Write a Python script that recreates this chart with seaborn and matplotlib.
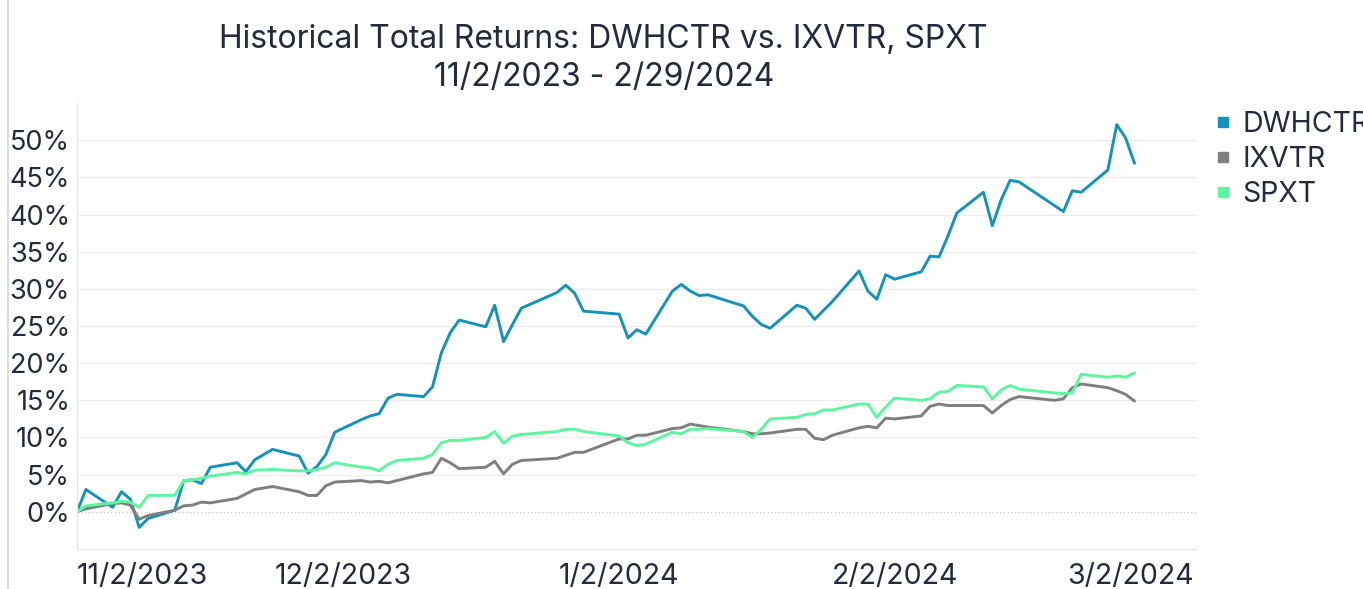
import pandas as pd
import matplotlib
matplotlib.use('Agg')
import matplotlib.pyplot as plt
import matplotlib.transforms as mtransforms
from matplotlib.lines import Line2D
import seaborn as sns

#-------------------------------------------------
l_date=['2023-11-02','2023-11-03','2023-11-06','2023-11-07','2023-11-08','2023-11-09','2023-11-10',
        '2023-11-13','2023-11-14','2023-11-15','2023-11-16','2023-11-17','2023-11-20','2023-11-21',
        '2023-11-22','2023-11-24','2023-11-27','2023-11-28','2023-11-29','2023-11-30',
        '2023-12-01','2023-12-04','2023-12-05','2023-12-06','2023-12-07','2023-12-08','2023-12-11',
        '2023-12-12','2023-12-13','2023-12-14','2023-12-15','2023-12-18','2023-12-19','2023-12-20',
        '2023-12-21','2023-12-22','2023-12-26','2023-12-27','2023-12-28','2023-12-29',
        '2024-01-02','2024-01-03','2024-01-04','2024-01-05','2024-01-08','2024-01-09','2024-01-10',
        '2024-01-11','2024-01-12','2024-01-16','2024-01-17','2024-01-18','2024-01-19','2024-01-22',
        '2024-01-23','2024-01-24','2024-01-25','2024-01-26','2024-01-29','2024-01-30','2024-01-31',
        '2024-02-01','2024-02-02','2024-02-05','2024-02-06','2024-02-07','2024-02-08','2024-02-09',
        '2024-02-12','2024-02-13','2024-02-14','2024-02-15','2024-02-16','2024-02-20','2024-02-21',
        '2024-02-22','2024-02-23','2024-02-26','2024-02-27','2024-02-28','2024-02-29']

dwhctr=[0.0, 3.0, 0.6, 2.7, 1.7, -2.1, -0.9, 0.2, 4.2, 4.3, 3.8, 6.0, 6.6, 5.4, 7.0, 8.4, 7.5, 5.2, 6.1, 7.7,
        10.7, 12.4, 12.9, 13.2, 15.3, 15.8, 15.5, 16.8, 21.4, 24.1, 25.8, 24.9, 27.8, 22.9, 25.2, 27.4, 29.5, 30.5, 29.4, 27.0,
        26.6, 23.4, 24.5, 23.9, 29.7, 30.6, 29.7, 29.1, 29.2, 27.7, 26.3, 25.2, 24.7, 27.8, 27.4, 25.9, 27.1, 28.3, 32.4, 29.7, 28.6,
        31.9, 31.3, 32.3, 34.4, 34.3, 37.1, 40.2, 43.0, 38.5, 42.0, 44.6, 44.4, 41.2, 40.4, 43.2, 43.0, 46.0, 52.1, 50.3, 46.9]

ixvtr=[0.0, 0.4, 1.1, 1.2, 0.9, -1.0, -0.5, 0.2, 0.8, 0.9, 1.3, 1.2, 1.8, 2.4, 3.0, 3.4, 2.7, 2.2, 2.2, 3.5,
       4.0, 4.2, 4.0, 4.1, 3.9, 4.2, 5.1, 5.3, 7.2, 6.6, 5.8, 6.0, 6.8, 5.1, 6.4, 6.9, 7.2, 7.6, 8.0, 8.0,
       9.8, 9.8, 10.3, 10.3, 11.2, 11.3, 11.8, 11.6, 11.4, 10.8, 10.5, 10.5, 10.6, 11.1, 11.1, 9.9, 9.7, 10.3, 11.3, 11.5, 11.3,
       12.6, 12.5, 12.9, 14.2, 14.5, 14.3, 14.3, 14.3, 13.3, 14.3, 15.1, 15.5, 15.0, 15.2, 16.7, 17.2, 16.7, 16.3, 15.8, 14.9]

spxt=[0.0, 0.8, 1.2, 1.4, 1.3, 0.6, 2.2, 2.2, 4.2, 4.3, 4.5, 4.8, 5.3, 5.1, 5.6, 5.7, 5.5, 5.5, 5.7, 6.0,
      6.6, 6.0, 5.9, 5.5, 6.4, 6.9, 7.2, 7.7, 9.3, 9.6, 9.6, 10.0, 10.8, 9.2, 10.2, 10.4, 10.8, 11.1, 11.1, 10.8,
      10.2, 9.3, 8.9, 9.1, 10.7, 10.5, 11.1, 11.1, 11.2, 10.8, 10.0, 11.1, 12.5, 12.7, 13.1, 13.2, 13.7, 13.7, 14.5, 14.5, 12.7,
      14.1, 15.3, 15.0, 15.2, 16.1, 16.2, 17.0, 16.8, 15.2, 16.4, 17.0, 16.5, 16.0, 15.9, 16.0, 18.5, 18.1, 18.3, 18.1, 18.7]

l_series=['DWHCTR', 'IXVTR', 'SPXT']
l_color=['#1591bb', '#7f7f7f', '#5ef5a0']
l_xtick=['2023-11-02', '2023-12-02', '2024-01-02', '2024-02-02', '2024-03-02']
l_xlab=['11/2/2023', '12/2/2023', '1/2/2024', '2/2/2024', '3/2/2024']
l_ytick=list(range(0, 55, 5))

txt_c='#222a3f'

#-------------------------------------------------
df=pd.DataFrame({'date': pd.to_datetime(l_date), 'DWHCTR': dwhctr, 'IXVTR': ixvtr, 'SPXT': spxt})
df=df.melt(id_vars='date', var_name='series', value_name='ret')

sns.set_style('white')
plt.rcParams['font.family']=['Inter', 'DejaVu Sans']

fig=plt.figure(figsize=(13.63, 5.89), dpi=100)
ax=fig.add_axes([0.0565, 0.068, 0.8215, 0.757])

# grid
for v in l_ytick[1:]:
    ax.axhline(v, color='#ececec', lw=0.9, zorder=0)
ax.axhline(0, color='#c4c4c4', lw=0.9, ls=(0, (1, 2)), zorder=0)

sns.lineplot(data=df, x='date', y='ret', hue='series', hue_order=l_series,
             palette=l_color, linewidth=2.1, ax=ax, legend=False)

ax.set_ylim(-5, 55)
ax.set_xlim(pd.Timestamp('2023-11-02'), pd.Timestamp('2024-03-07'))
ax.set_yticks(l_ytick)
ax.set_yticklabels([f'{v}%' for v in l_ytick], fontsize=19.5, color=txt_c)
ax.set_xticks(pd.to_datetime(l_xtick))
ax.set_xticklabels(l_xlab, fontsize=20.5, color=txt_c)
ax.tick_params(axis='y', length=0, pad=5)
ax.tick_params(axis='x', length=4, color='#e0e0e0', pad=6)
ax.set_xlabel('')
ax.set_ylabel('')

labs=ax.get_xticklabels()
labs[0].set_horizontalalignment('left')
labs[-1].set_transform(labs[-1].get_transform()+mtransforms.ScaledTranslation(-0.22, 0, fig.dpi_scale_trans))

for s in ['top', 'right']:
    ax.spines[s].set_visible(False)
for s in ['left', 'bottom']:
    ax.spines[s].set_color('#e6e6e6')
    ax.spines[s].set_linewidth(0.9)

# title
fig.text(0.443, 0.933, 'Historical Total Returns: DWHCTR vs. IXVTR, SPXT', ha='center', va='center',
         fontsize=23, color=txt_c)
fig.text(0.443, 0.869, '11/2/2023 - 2/29/2024', ha='center', va='center', fontsize=23, color=txt_c)

# legend (the reference cuts the first entry at the right edge of the panel)
handles=[Line2D([], [], marker='s', ls='', color=c, markersize=7.5) for c in l_color]
leg=fig.legend(handles, l_series, loc='upper left', bbox_to_anchor=(0.8795, 0.835), frameon=False,
               fontsize=20.5, borderpad=0, handlelength=0.7, handletextpad=0.32, labelspacing=0.28)
for t in leg.get_texts():
    t.set_color(txt_c)

# panel border on the far left
fig.add_artist(Line2D([0.006, 0.006], [0, 1], transform=fig.transFigure, color='#dcdcdc', lw=1.5))

plt.savefig('out.png', dpi=100)
plt.close()
